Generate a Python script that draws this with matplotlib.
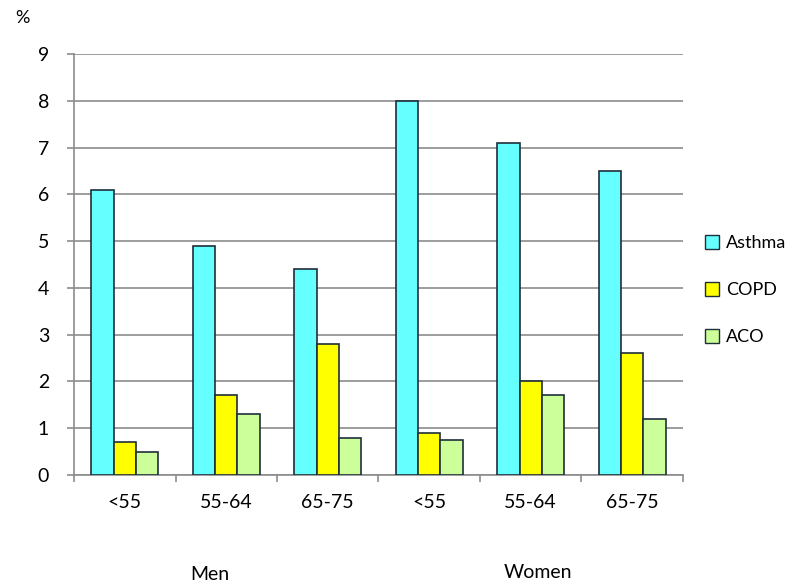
import matplotlib
matplotlib.use("Agg")
import matplotlib.pyplot as plt
import numpy as np

categories = ["<55", "55-64", "65-75", "<55", "55-64", "65-75"]
groups = ["Men", "Women"]
series = ["Asthma", "COPD", "ACO"]
asthma = [6.1, 4.9, 4.4, 8.0, 7.1, 6.5]
copd = [0.7, 1.7, 2.8, 0.9, 2.0, 2.6]
aco = [0.5, 1.3, 0.8, 0.75, 1.7, 1.2]
yticks = list(range(0, 10))

colors = ["#66FFFF", "#FFFF00", "#CCFF99"]
plt.rcParams['font.family'] = ['Lato', 'DejaVu Sans']
FS = 14

fig = plt.figure(figsize=(7.97, 5.86), dpi=100)
ax = fig.add_axes([0.0929, 0.1894, 0.764, 0.7184])

x = np.arange(len(categories))
w = 0.22
for i, (vals, c, name) in enumerate(zip([asthma, copd, aco], colors, series)):
    ax.bar(x + (i - 1) * w, vals, width=w, color=c, edgecolor="#1f2f3a",
           linewidth=1.2, label=name, zorder=3)

ax.set_xlim(-0.5, len(categories) - 0.5)
ax.set_ylim(0, 9)
ax.set_yticks(yticks)
ax.set_yticklabels([str(t) for t in yticks], fontsize=FS)
ax.yaxis.grid(True, color="#8c8c8c", linewidth=1.2, zorder=0)
ax.set_axisbelow(True)
for s in ["top", "right"]:
    ax.spines[s].set_visible(False)
for s in ["left", "bottom"]:
    ax.spines[s].set_color("#8c8c8c")
    ax.spines[s].set_linewidth(1.2)
ax.tick_params(axis="y", length=5, color="#8c8c8c", pad=13, width=1.2)

ax.set_xticks(np.arange(-0.5, len(categories), 1.0))
ax.set_xticklabels([])
ax.tick_params(axis="x", which="major", length=5, color="#8c8c8c", width=1.2)
ax.set_xticks(x, minor=True)
ax.set_xticklabels(categories, minor=True, fontsize=FS)
ax.tick_params(axis="x", which="minor", length=0, pad=14)

fig.text(15 / 797, 1 - 18 / 586, "%", fontsize=FS - 1, ha="left", va="center")
fig.text(210 / 797, 1 - 575 / 586, groups[0], fontsize=FS, ha="center", va="center")
fig.text(538 / 797, 1 - 573 / 586, groups[1], fontsize=FS, ha="center", va="center")

leg = fig.legend(loc="center left", bbox_to_anchor=(705 / 797, 1 - 290 / 586),
                 frameon=False, fontsize=13, handlelength=0.8, handleheight=0.8,
                 handletextpad=0.35, labelspacing=1.7, borderpad=0,
                 borderaxespad=0)
for h in leg.legend_handles:
    h.set_linewidth(1.0)

fig.savefig("out.png", dpi=100)
